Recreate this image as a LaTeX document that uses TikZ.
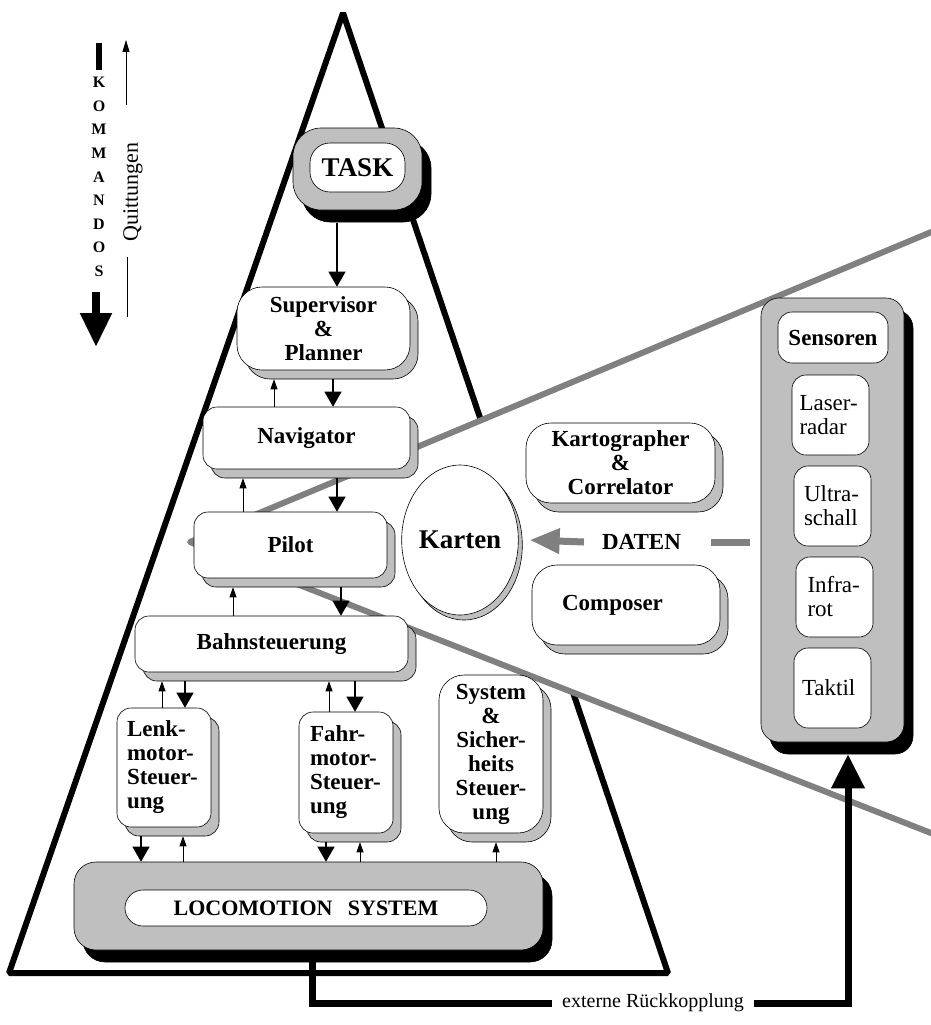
\documentclass[tikz,border=0pt]{standalone}
\usepackage{fontspec}
\setmainfont{Liberation Serif}
\usetikzlibrary{shapes.geometric,arrows.meta,calc,shadows}
\definecolor{shade}{gray}{0.75}
\definecolor{ray}{gray}{0.5}
\tikzset{
  lbl/.style={font=\fontsize{23}{24}\selectfont\bfseries},
  txt/.style={font=\fontsize{23}{24}\selectfont},
  big/.style={font=\fontsize{27}{28}\selectfont\bfseries},
  modbox/.style={draw=black, line width=0.6pt, fill=white, inner sep=0pt, rounded corners=#1,
    drop shadow={shadow xshift=8pt, shadow yshift=-9pt, opacity=1, fill=shade, draw=black, line width=0.6pt}},
  modbox/.default=14pt,
  panel/.style={draw=black, line width=0.6pt, fill=shade, inner sep=0pt, rounded corners=#1,
    drop shadow={shadow xshift=9pt, shadow yshift=-12pt, opacity=1, fill=black, draw=black}},
  panel/.default=22pt,
  inbox/.style={draw=black, line width=0.6pt, fill=white, inner sep=0pt, rounded corners=#1},
  inbox/.default=14pt,
  sbox/.style={inbox, txt, align=left, minimum width=77pt, minimum height=80pt},
  cmd/.style={line width=1.1pt, -{Triangle[length=15pt,width=17pt]}},
  ack/.style={line width=0.8pt, -{Triangle[length=10pt,width=7pt]}},
  fbline/.style={line width=7pt},
}
\begin{document}
\begin{tikzpicture}[x=1pt,y=-1pt]
\useasboundingbox (0,0) rectangle (931,1025);

% hierarchy triangle
\coordinate (apex) at (343,13);
\coordinate (baseL) at (9,973);
\coordinate (baseR) at (668,973);
\draw[line width=6pt, line join=bevel] (baseL) -- (apex) -- (baseR) -- cycle;

% view cone towards the sensors
\coordinate (cone) at (190,542);
\coordinate (coneU) at (936,230);
\coordinate (coneL) at (936,835);
\fill[white] (cone) -- (coneU) -- (coneL) -- cycle;
\draw[ray, line width=6pt, line join=round, line cap=round] (coneU) -- (cone) -- (coneL);

% task
\node[panel=28pt, minimum width=129pt, minimum height=82pt] (taskframe) at (357.5,169) {};
\node[inbox=20pt, big, minimum width=95pt, minimum height=49pt] (task) at (357.5,167.5) {TASK};

% control hierarchy
\node[modbox=25pt, lbl, align=center, minimum width=173pt, minimum height=83pt] (sup) at (323.5,328.5) {Supervisor\\\&\\Planner};
\node[modbox, lbl, minimum width=207pt, minimum height=62pt] (nav) at (306.5,438) {Navigator};
\node[modbox, lbl, minimum width=193pt, minimum height=66pt] (pil) at (290.5,545) {Pilot};
\node[modbox, lbl, minimum width=273pt, minimum height=56pt] (bahn) at (271.5,644) {Bahnsteuerung};
\node[modbox, lbl, align=left, text width=74pt, minimum width=94pt, minimum height=119pt] (lenk) at (164,767.5) {Lenk-\\motor-\\Steuer-\\ung};
\node[modbox, lbl, align=left, text width=72pt, minimum width=94pt, minimum height=121pt] (fahr) at (346,772.5) {Fahr-\\motor-\\Steuer-\\ung};
\node[modbox=25pt, lbl, align=center, text width=100pt, minimum width=104pt, minimum height=158pt] (sys) at (491,754) {System\\\&\\Sicher-\\heits\\Steuer-\\ung};

% locomotion
\node[panel=22pt, minimum width=469pt, minimum height=88pt] (locoframe) at (308.5,906) {};
\node[inbox=18pt, font=\fontsize{22}{24}\selectfont\bfseries, minimum width=362pt, minimum height=36pt] (loco) at (306,908) {LOCOMOTION\hspace{0.7em}SYSTEM};

% maps
\node[ellipse, draw=black, line width=0.6pt, fill=white, inner sep=0pt, minimum width=110pt, minimum height=150pt, big,
  drop shadow={shadow xshift=4pt, shadow yshift=-5pt, opacity=1, fill=shade, draw=black, line width=0.6pt}] (karten) at (460,540) {Karten};
\node[modbox=25pt, lbl, align=center, minimum width=189pt, minimum height=80pt] (karto) at (620.5,463) {Kartographer\\\&\\Correlator};
\node[modbox=25pt, lbl, align=left, text width=128pt, minimum width=188pt, minimum height=80pt] (comp) at (626,605) {Composer};

% sensors
\node[panel=18pt, minimum width=143pt, minimum height=444pt] (sens) at (832.5,520) {};
\node[inbox, lbl, minimum width=110pt, minimum height=51pt] (sensoren) at (833,337.5) {Sensoren};
\node[sbox, text width=62pt] (laser) at (830.5,415) {Laser-\\radar};
\node[sbox, text width=57pt] (ultra) at (832.5,506) {Ultra-\\schall};
\node[sbox, text width=54pt] (infra) at (834.5,597) {Infra-\\rot};
\node[sbox, text width=61pt] (taktil) at (832.5,688) {Taktil};

% commands down, acknowledgements up
\draw[cmd] ($(337,0 |- taskframe.south)+(0,13)$) -- (337,0 |- sup.north);
\draw[ack] (274,0 |- nav.north) -- ($(274,0 |- sup.south)+(0,9)$);
\draw[cmd] ($(333,0 |- sup.south)+(0,9)$) -- (333,0 |- nav.north);
\draw[ack] (243,0 |- pil.north) -- ($(243,0 |- nav.south)+(0,9)$);
\draw[cmd] ($(337,0 |- nav.south)+(0,9)$) -- (337,0 |- pil.north);
\draw[ack] (233,0 |- bahn.north) -- ($(233,0 |- pil.south)+(0,9)$);
\draw[cmd] ($(341,0 |- pil.south)+(0,9)$) -- (341,0 |- bahn.north);
\draw[ack] (162,0 |- lenk.north) -- ($(162,0 |- bahn.south)+(0,9)$);
\draw[cmd] ($(185,0 |- bahn.south)+(0,9)$) -- (185,0 |- lenk.north);
\draw[ack] (329,0 |- fahr.north) -- ($(329,0 |- bahn.south)+(0,9)$);
\draw[cmd] ($(355,0 |- bahn.south)+(0,9)$) -- (355,0 |- fahr.north);
\draw[cmd] ($(141,0 |- lenk.south)+(0,9)$) -- (141,0 |- locoframe.north);
\draw[ack] (183,0 |- locoframe.north) -- ($(183,0 |- lenk.south)+(0,9)$);
\draw[cmd] ($(326,0 |- fahr.south)+(0,9)$) -- (326,0 |- locoframe.north);
\draw[ack] (360,0 |- locoframe.north) -- ($(360,0 |- fahr.south)+(0,9)$);
\draw[ack] (496,0 |- locoframe.north) -- ($(496,0 |- sys.south)+(0,9)$);

% sensor data into the maps
\node[lbl, inner sep=0pt] (daten) at (641.5,542) {DATEN};
\draw[ray, line width=7pt, -{Triangle[length=30pt,width=24pt]}] ($(daten.west)+(-18,0)$) -- ($(karten.east)+(11,0)$);
\draw[ray, line width=7pt] ($(daten.east)+(30,0)$) -- ($(sens.west |- daten.east)+(-11,0)$);

% external feedback loop
\node[font=\fontsize{20}{21}\selectfont, inner xsep=10pt, inner ysep=0pt] (fb) at (653,1003) {externe Rückkopplung};
\draw[fbline] ($(312,0 |- locoframe.south)+(0,10)$) |- (fb.west);
\draw[fbline, -{Triangle[length=34pt,width=32pt]}] (fb.east) -| ($(sens.south)+(15.5,12)$);

% legend
\coordinate (barTop) at (99,43);
\coordinate (barBot) at (99,70);
\draw[line width=6pt] (barTop) -- (barBot);
\node[font=\fontsize{16}{23.6}\selectfont\bfseries, align=center, inner sep=0pt] (kom) at (99,177) {K\\O\\M\\M\\A\\N\\D\\O\\S};
\coordinate (cmdFrom) at (96,292);
\coordinate (cmdTo) at (96,347);
\draw[line width=8pt, -{Triangle[length=34pt,width=30pt]}] (cmdFrom) -- (cmdTo);
\node[rotate=90, font=\fontsize{22}{22}\selectfont, inner sep=0pt] (quit) at (133,192) {Quittungen};
\coordinate (ackFrom) at (126,105);
\coordinate (ackTo) at (126,40);
\draw[line width=0.8pt, -{Triangle[length=12pt,width=7pt]}] (ackFrom) -- (ackTo);
\coordinate (ackLow) at (127,317);
\coordinate (ackHigh) at (127,257);
\draw[line width=0.8pt] (ackLow) -- (ackHigh);
\end{tikzpicture}
\end{document}
